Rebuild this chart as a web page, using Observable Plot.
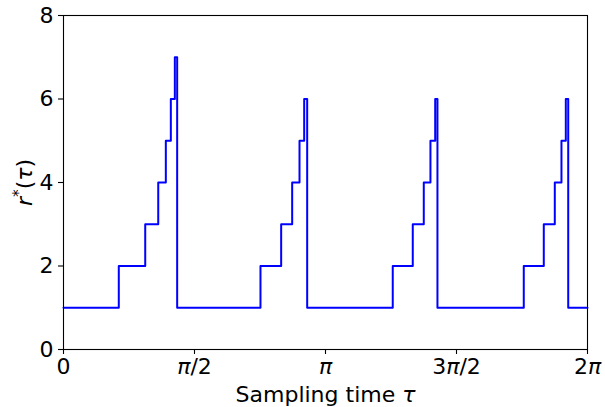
<!DOCTYPE html>
<html><head><meta charset="utf-8">
<script src="https://cdn.jsdelivr.net/npm/d3@7"></script>
<script src="https://cdn.jsdelivr.net/npm/@observablehq/plot@0.6"></script>
<style>body{margin:0;background:#fff}</style>
</head><body><div id="chart"></div>
<script>
// Step breakpoints (sampling time τ, radians) and r*(τ) from each breakpoint on
const tau = [0, 0.663, 0.980, 1.136, 1.227, 1.287, 1.335, 1.363,
             2.362, 2.610, 2.742, 2.830, 2.886, 2.922,
             3.948, 4.188, 4.320, 4.400, 4.457, 4.484,
             5.519, 5.759, 5.891, 5.971, 6.023, 6.052, 2 * Math.PI];
const rStar = [1, 2, 3, 4, 5, 6, 7, 1,
               2, 3, 4, 5, 6, 1,
               2, 3, 4, 5, 6, 1,
               2, 3, 4, 5, 6, 1, 1];
const xTicks = [0, Math.PI / 2, Math.PI, 3 * Math.PI / 2, 2 * Math.PI];
const xTickLabels = ["0", "π/2", "π", "3π/2", "2π"];
const yTicks = [0, 2, 4, 6, 8];
const xLabel = "Sampling time τ";
const yLabel = "r*(τ)";

const data = tau.map((t, i) => ({t, r: rStar[i]}));
const chart = Plot.plot({
  width: 605, height: 407,
  marginLeft: 63, marginRight: 18, marginTop: 15, marginBottom: 58,
  style: {fontFamily: "DejaVu Sans", fontSize: "22px", background: "white", color: "black"},
  x: {domain: [0, 2 * Math.PI]},
  y: {domain: [0, 8]},
  marks: [
    Plot.axisX({ticks: xTicks, tickFormat: d => xTickLabels[xTicks.findIndex(v => Math.abs(v - d) < 1e-9)],
                tickSize: 5, tickPadding: 4, label: null, strokeWidth: 1.1, fontSize: 22}),
    Plot.axisY({ticks: yTicks, tickSize: 5, tickPadding: 5, label: null, strokeWidth: 1.1, fontSize: 22}),
    Plot.line(data, {x: "t", y: "r", curve: "step-after", stroke: "#0000ff", strokeWidth: 2}),
    Plot.frame({stroke: "black", strokeWidth: 1.1}),
    Plot.text([xLabel], {frameAnchor: "bottom", dy: 52, text: d => d, textAnchor: "middle", lineAnchor: "bottom", fontSize: 22}),
    Plot.text([yLabel], {frameAnchor: "left", dx: -32, rotate: -90, text: d => d, textAnchor: "middle", lineAnchor: "bottom", fontSize: 22})
  ]
});
document.getElementById("chart").appendChild(chart);

// Rich text: italic Greek letters / math variables, superscript star
const svg = d3.select(chart);
svg.selectAll("text").each(function() {
  const el = d3.select(this);
  const s = this.textContent;
  if (s === yLabel) {
    el.text(null);
    el.append("tspan").attr("font-style", "italic").text("r");
    el.append("tspan").attr("font-size", 15.4).attr("dy", -8).text("*");
    el.append("tspan").attr("dy", 8).text("(");
    el.append("tspan").attr("font-style", "italic").text("τ");
    el.append("tspan").text(")");
  } else if (/[πτ]/.test(s)) {
    el.text(null);
    for (const ch of s.split(/([πτ])/)) {
      if (!ch) continue;
      const t = el.append("tspan").text(ch);
      if (ch === "π" || ch === "τ") t.attr("font-style", "italic");
    }
  }
});
</script>
</body></html>
